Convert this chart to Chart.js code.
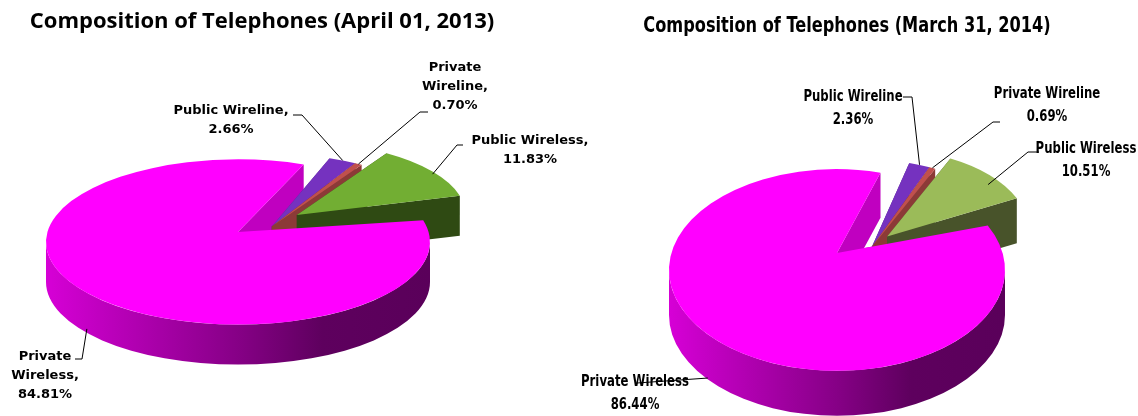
<!DOCTYPE html>
<html>
<head>
<meta charset="utf-8">
<script src="https://cdn.jsdelivr.net/npm/chart.js@4.4.1/dist/chart.umd.min.js"></script>
<style>
  body { margin: 0; background: #fff; }
  #wrap { position: relative; width: 1138px; height: 416px; overflow: hidden; }
  #wrap canvas { position: absolute; top: 0; }
  #c1 { left: 0; }
  #c2 { left: 569px; }
</style>
</head>
<body>
<div id="wrap">
  <canvas id="c1" width="640" height="416"></canvas>
  <canvas id="c2" width="569" height="416"></canvas>
</div>
<script>
// data
const categories = ['Public Wireline', 'Private Wireline', 'Public Wireless', 'Private Wireless'];
const values2013 = [2.66, 0.70, 11.83, 84.81];
const values2014 = [2.36, 0.69, 10.51, 86.44];
const titles = ['Composition of Telephones (April 01, 2013)', 'Composition of Telephones (March 31, 2014)'];

// per chart look
const setups = [
  {
    id: 'c1', values: values2013, title: titles[0],
    padding: { left: 0, right: 164, top: 68, bottom: 0 },
    radius: 192, rotation: 20, tilt: 0.43, depth: 40, lift: 10, offTilt: 0.5, outScale: 0.88,
    offsets: [46, 46, 80, 0],
    colors: ['#7532bf', '#c0504d', '#72ae33', '#ff00ff'],
    sides: ['#55238f', '#8c3a37', '#2f4a13', '#c000c0'],
    titleFont: 'bold 22px "Open Sans"', titleX: 262, titleY: 22, textScaleY: 1,
    labelFont: 'bold 13px "DejaVu Sans"', lineH: 19, comma: true,
    labels: [
      { x: 231, y: 111, split: false, path: [[293, 115], [302, 115]], t: 0.5, rf: 1, dz: 0 },
      { x: 455, y: 68, split: true, path: [[428, 112], [420, 112]], t: 0.5, rf: 1, dz: 0 },
      { x: 530, y: 141, split: false, path: [[463, 145], [457, 145]], t: 0.54, rf: 0.98, dz: 0 },
      { x: 45, y: 357, split: true, path: [[75, 359], [82, 359]], t: 0.515, rf: 1, dz: 0.9 }
    ]
  },
  {
    id: 'c2', values: values2014, title: titles[1],
    padding: { left: 0, right: 33, top: 124, bottom: 0 },
    radius: 168, rotation: 15, tilt: 0.6, depth: 45, lift: 17, offTilt: 0.55, outScale: 0.86,
    offsets: [55, 55, 79, 0],
    colors: ['#7532bf', '#c0504d', '#9bbb59', '#ff00ff'],
    sides: ['#55238f', '#8c3a37', '#48532a', '#c000c0'],
    titleFont: 'bold 18px "DejaVu Sans Condensed", "DejaVu Sans", sans-serif', titleX: 278, titleY: 26, textScaleY: 1.2,
    labelFont: 'bold 13px "DejaVu Sans Condensed", "DejaVu Sans", sans-serif', lineH: 23, comma: false,
    labels: [
      { x: 284, y: 97, split: false, path: [[334, 97], [343, 97]], t: 0.5, rf: 1, dz: 0 },
      { x: 478, y: 94, split: false, path: [[431, 122], [424, 122]], t: 0.5, rf: 1, dz: 0 },
      { x: 517, y: 149, split: false, path: [[470, 152], [459, 152]], t: 0.62, rf: 0.92, dz: 0 },
      { x: 66, y: 382, split: false, path: [[68, 383]], t: 0.535, rf: 1, dz: 0.97 }
    ]
  }
];

// slice geometry in the tilted view, taken from the arc elements chart.js laid out
function slices(chart, s) {
  const arcs = chart.getDatasetMeta(0).data;
  const out = arcs.filter(a => a.options.offset > 0);
  const dir = out.length ? (Math.min(...out.map(a => a.startAngle)) + Math.max(...out.map(a => a.endAngle))) / 2 : 0;
  return arcs.map((a, i) => {
    const e = a.options.offset || 0;
    const cx = a.x + Math.cos(dir) * e;
    const cy = a.y + Math.sin(dir) * e * s.offTilt;
    const R = e > 0 ? a.outerRadius * s.outScale : a.outerRadius;
    return {
      i, a0: a.startAngle, a1: a.endAngle, R, cx, cy, out: e > 0,
      ax: cx, ay: e > 0 ? cy : cy - s.lift
    };
  });
}

function drawSides(ctx, p, s) {
  const rx = p.R, ry = p.R * s.tilt, d = s.depth;
  const side = s.sides[p.i];
  const face = (t) => {
    const x = p.cx + rx * Math.cos(t), y = p.cy + ry * Math.sin(t);
    ctx.beginPath();
    ctx.moveTo(p.ax, p.ay); ctx.lineTo(x, y); ctx.lineTo(x, y + d); ctx.lineTo(p.ax, p.ay + d);
    ctx.closePath();
    ctx.fillStyle = side; ctx.fill();
  };
  const startFront = Math.cos(p.a0) < 0, endFront = Math.cos(p.a1) > 0;
  if (!startFront) face(p.a0);
  if (!endFront) face(p.a1);
  if (startFront) face(p.a0);
  if (endFront) face(p.a1);

  // outer wall, only the front half shows
  let wall = side;
  if (!p.out) {
    wall = ctx.createLinearGradient(p.cx - rx, 0, p.cx + rx, 0);
    wall.addColorStop(0, '#d600d6');
    wall.addColorStop(0.5, '#860086');
    wall.addColorStop(0.72, '#5e005e');
    wall.addColorStop(1, '#5a005a');
  }
  for (let k = -1; k <= 1; k++) {
    const a = Math.max(p.a0, 2 * Math.PI * k), b = Math.min(p.a1, 2 * Math.PI * k + Math.PI);
    if (a >= b) continue;
    ctx.beginPath();
    ctx.ellipse(p.cx, p.cy, rx, ry, 0, a, b);
    ctx.lineTo(p.cx + rx * Math.cos(b), p.cy + ry * Math.sin(b) + d);
    ctx.ellipse(p.cx, p.cy + d, rx, ry, 0, b, a, true);
    ctx.closePath();
    ctx.fillStyle = wall; ctx.fill();
  }
}

function drawTop(ctx, p, s) {
  ctx.beginPath();
  ctx.moveTo(p.ax, p.ay);
  ctx.ellipse(p.cx, p.cy, p.R, p.R * s.tilt, 0, p.a0, p.a1);
  ctx.closePath();
  ctx.fillStyle = s.colors[p.i]; ctx.fill();
}

const pie3d = {
  id: 'pie3d',
  beforeDatasetsDraw(chart) {
    const s = chart.config.options.plugins.pie3d;
    const ctx = chart.ctx;
    const parts = slices(chart, s);
    const body = parts.filter(p => !p.out), pulled = parts.filter(p => p.out);
    body.forEach(p => drawSides(ctx, p, s));
    pulled.forEach(p => { drawSides(ctx, p, s); drawTop(ctx, p, s); });
    body.forEach(p => drawTop(ctx, p, s));
    return false;
  },
  afterDraw(chart) {
    const s = chart.config.options.plugins.pie3d;
    const ctx = chart.ctx;
    const parts = slices(chart, s);
    const sy = s.textScaleY;
    ctx.save();
    ctx.fillStyle = '#000';
    ctx.textAlign = 'center';
    ctx.textBaseline = 'middle';
    ctx.save();
    ctx.scale(1, sy);
    ctx.font = s.titleFont;
    ctx.fillText(s.title, s.titleX, s.titleY / sy);

    ctx.font = s.labelFont;
    s.labels.forEach((lab, i) => {
      const name = categories[i] + (s.comma ? ',' : '');
      const lines = (lab.split ? name.split(' ') : [name]).concat(s.values[i].toFixed(2) + '%');
      lines.forEach((ln, j) => ctx.fillText(ln, lab.x, (lab.y + j * s.lineH) / sy));
    });
    ctx.restore();

    ctx.strokeStyle = '#000';
    ctx.lineWidth = 1;
    s.labels.forEach((lab, i) => {
      const p = parts[i];
      const t = p.a0 + (p.a1 - p.a0) * lab.t;
      const r = p.R * lab.rf;
      const ax = p.cx + r * Math.cos(t), ay = p.cy + r * s.tilt * Math.sin(t) + s.depth * lab.dz;
      ctx.beginPath();
      ctx.moveTo(lab.path[0][0], lab.path[0][1]);
      lab.path.slice(1).forEach(q => ctx.lineTo(q[0], q[1]));
      ctx.lineTo(ax, ay);
      ctx.stroke();
    });
    ctx.restore();
  }
};

setups.forEach(s => {
  new Chart(document.getElementById(s.id), {
    type: 'pie',
    data: {
      labels: categories,
      datasets: [{
        data: s.values,
        backgroundColor: s.colors,
        borderWidth: 0,
        offset: s.offsets,
        radius: s.radius,
        rotation: s.rotation
      }]
    },
    options: {
      responsive: false,
      animation: false,
      events: [],
      layout: { padding: s.padding },
      plugins: { legend: { display: false }, tooltip: { enabled: false }, title: { display: false }, pie3d: s }
    },
    plugins: [pie3d]
  });
});
</script>
</body>
</html>
